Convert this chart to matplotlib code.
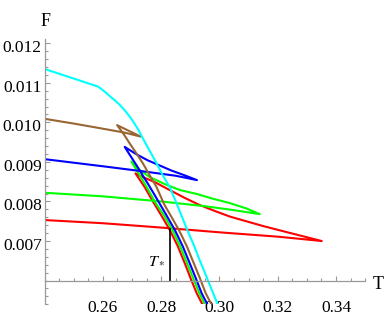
"""
自由能 F 随温度 T 变化的燕尾曲线
"""

import matplotlib
matplotlib.use('Agg')
import matplotlib.pyplot as plt
from matplotlib.ticker import MultipleLocator, FormatStrFormatter
from matplotlib.transforms import ScaledTranslation

# 设置字体 (Times 风格)
plt.rcParams['font.family'] = 'serif'
plt.rcParams['font.serif'] = ['Liberation Serif', 'DejaVu Serif']
plt.rcParams['mathtext.fontset'] = 'stix'

# ---- 数据 ----
T_red = [0.24, 0.26, 0.28, 0.30, 0.32, 0.3351,
         0.3276, 0.3207, 0.3149, 0.3087, 0.3035, 0.2984, 0.2932, 0.2881,
         0.2829, 0.2778, 0.2736, 0.2712,
         0.2743, 0.2771, 0.2798, 0.2829, 0.2857, 0.2881, 0.2901, 0.2922,
         0.2943, 0.2949]
F_red = [0.00753, 0.00745, 0.00734, 0.00722, 0.00711, 0.00700,
         0.00714, 0.00727, 0.00738, 0.00751, 0.00762, 0.00776, 0.00791, 0.00809,
         0.00829, 0.00849, 0.00862, 0.00871,
         0.00837, 0.00801, 0.00768, 0.00729, 0.00687, 0.00644, 0.00606, 0.00568,
         0.00538, 0.00525]

T_green = [0.24, 0.26, 0.28, 0.295, 0.305, 0.3138,
           0.3094, 0.3035, 0.2977, 0.2922, 0.2864, 0.2812, 0.2760, 0.2726, 0.2698,
           0.2726, 0.2754, 0.2781, 0.2807, 0.2838, 0.2865, 0.2889, 0.2910, 0.2931,
           0.2951, 0.2958]
F_green = [0.00822, 0.00813, 0.00800, 0.00788, 0.00778, 0.00768,
           0.00782, 0.00796, 0.00807, 0.00819, 0.00829, 0.00844, 0.00862, 0.00880, 0.00901,
           0.00867, 0.00832, 0.00796, 0.00768, 0.00729, 0.00687, 0.00644, 0.00606, 0.00568,
           0.00538, 0.00525]

T_blue = [0.24, 0.26, 0.275, 0.285, 0.2923,
          0.2881, 0.2836, 0.2795, 0.2754, 0.2716, 0.2675,
          0.2695, 0.2716, 0.2736, 0.2757, 0.2778, 0.2797, 0.2816, 0.2847, 0.2874,
          0.2898, 0.2919, 0.2939, 0.2960, 0.2967]
F_blue = [0.00907, 0.00889, 0.00875, 0.00865, 0.00854,
          0.00866, 0.00878, 0.00891, 0.00904, 0.00919, 0.00938,
          0.00915, 0.00891, 0.00867, 0.00842, 0.00816, 0.00792, 0.00768, 0.00728, 0.00687,
          0.00644, 0.00606, 0.00568, 0.00538, 0.00525]

T_brown = [0.24, 0.25, 0.26, 0.2675, 0.2730,
           0.2688, 0.2649,
           0.2671, 0.2692, 0.2714, 0.2737, 0.2760, 0.2784, 0.2811, 0.2830, 0.2861,
           0.2888, 0.2912, 0.2933, 0.2953, 0.2974, 0.2981]
F_brown = [0.01009, 0.00997, 0.00984, 0.00974, 0.00964,
           0.00979, 0.00993,
           0.00971, 0.00947, 0.00923, 0.00897, 0.00867, 0.00837, 0.00792, 0.00768, 0.00728,
           0.00687, 0.00644, 0.00606, 0.00568, 0.00538, 0.00525]

T_cyan = [0.24, 0.2458, 0.2520, 0.2585, 0.2606, 0.2626, 0.2644, 0.2661, 0.2678,
          0.2692, 0.2705, 0.2719, 0.2737, 0.2760, 0.2784, 0.2805, 0.2829, 0.2848,
          0.2869, 0.2889, 0.2912, 0.2932, 0.2955, 0.2975, 0.2995, 0.3002]
F_cyan = [0.01135, 0.01121, 0.01106, 0.01090, 0.01078, 0.01065, 0.01054, 0.01042, 0.01028,
          0.01015, 0.01001, 0.00985, 0.00960, 0.00929, 0.00897, 0.00867, 0.00837, 0.00804,
          0.00766, 0.00729, 0.00690, 0.00652, 0.00611, 0.00574, 0.00538, 0.00525]

# 相变温度 T_*
T_star = 0.2829
F_star = 0.00731

x_ticks = [0.26, 0.28, 0.30, 0.32, 0.34]
y_ticks = [0.007, 0.008, 0.009, 0.010, 0.011, 0.012]

curves = [
    (T_red, F_red, '#ff0000'),
    (T_green, F_green, '#00ff00'),
    (T_blue, F_blue, '#0000ff'),
    (T_brown, F_brown, '#996633'),
    (T_cyan, F_cyan, '#00ffff'),
]

fig = plt.figure(figsize=(3.88, 3.19), dpi=100)
ax = fig.add_axes([0.1147, 0.0461, 0.8265, 0.8307])

for T, F, c in curves:
    ax.plot(T, F, color=c, lw=1.5, solid_joinstyle='round')

# T_* 竖线
ax.plot([T_star, T_star], [0.006, F_star], color='black', lw=1.2)
ax.text(T_star - 0.0045, 0.00652, r'$T_*$', fontsize=11.5, ha='center', va='center')

ax.set_xlim(0.24, 0.35)
ax.set_ylim(0.0054, 0.0121)

# Mathematica 风格坐标轴
axis_gray = '#999999'
ax.spines['top'].set_visible(False)
ax.spines['right'].set_visible(False)
ax.spines['bottom'].set_position(('data', 0.006))
ax.spines['left'].set_position(('data', 0.24))
for s in ['bottom', 'left']:
    ax.spines[s].set_color(axis_gray)
    ax.spines[s].set_linewidth(0.9)

ax.set_xticks(x_ticks)
ax.set_yticks(y_ticks)
ax.xaxis.set_major_formatter(FormatStrFormatter('%.2f'))
ax.yaxis.set_major_formatter(FormatStrFormatter('%.3f'))
ax.xaxis.set_minor_locator(MultipleLocator(0.005))
ax.yaxis.set_minor_locator(MultipleLocator(0.0002))

ax.tick_params(which='both', direction='in', color=axis_gray, width=0.8)
ax.tick_params(which='major', length=3.5, labelsize=12.5)
ax.tick_params(which='minor', length=2)
ax.tick_params(axis='x', which='major', pad=14)
ax.tick_params(axis='y', which='major', pad=2)

# 纵轴刻度文字略微下移
shift = ScaledTranslation(0, -3 / 100, fig.dpi_scale_trans)
for lab in ax.get_yticklabels():
    lab.set_transform(lab.get_transform() + shift)

# 轴标签
ax.text(0.2403, 0.01255, 'F', fontsize=13, ha='center', va='center', clip_on=False)
ax.text(0.3544, 0.00589, 'T', fontsize=13, ha='center', va='center', clip_on=False)

fig.savefig('out.png', dpi=100)
